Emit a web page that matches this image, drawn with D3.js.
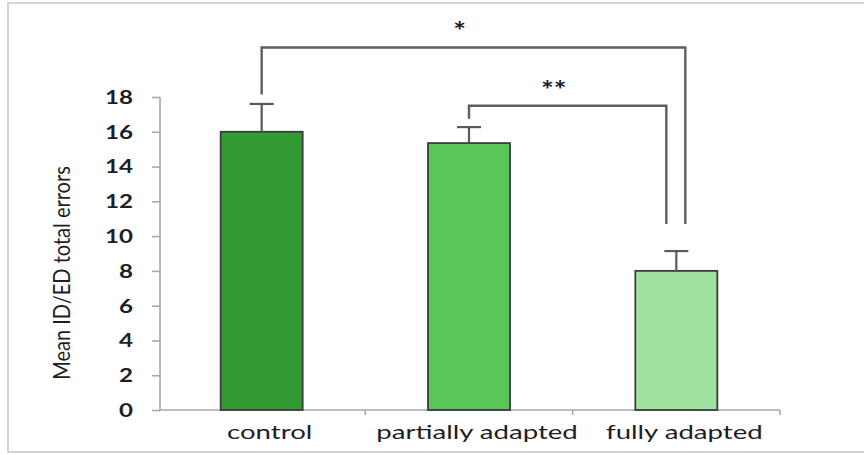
<!DOCTYPE html>
<html>
<head>
<meta charset="utf-8">
<script src="https://cdn.jsdelivr.net/npm/d3@7"></script>
<style>
  html, body { margin: 0; padding: 0; background: #ffffff; }
  svg { display: block; }
  text { font-family: Lato, "Open Sans", sans-serif; fill: #1e1e24; }
</style>
</head>
<body>
<svg id="chart" width="864" height="454"></svg>
<script>
// Groups and their mean ID/ED total errors with error bar size
const categories = ["control", "partially adapted", "fully adapted"];
const means = [16.0, 15.35, 8.0];
const errors = [1.6, 0.92, 1.14];
const barColors = ["#339933", "#58c658", "#a2e2a0"];
const yTicks = [0, 2, 4, 6, 8, 10, 12, 14, 16, 18];
const yTitle = "Mean ID/ED total errors";

// Significance brackets: group pair, label and heights (in data units)
const brackets = [
  { from: "control", to: "fully adapted", label: "*", top: 20.85, fromEnd: 18.15, toEnd: 10.7 },
  { from: "partially adapted", to: "fully adapted", label: "**", top: 17.5, fromEnd: 16.75, toEnd: 10.7 }
];

const svg = d3.select("#chart");

// outer frame
svg.append("rect")
  .attr("x", 8).attr("y", 3).attr("width", 880).attr("height", 449)
  .attr("fill", "none").attr("stroke", "#d4d4d4").attr("stroke-width", 2);

const plot = { left: 160, right: 778, top: 97, bottom: 410 };

const y = d3.scaleLinear().domain([0, 18]).range([plot.bottom, plot.top]);
const slot = d3.scaleBand().domain(categories).range([plot.left - 2, plot.right + 2]).padding(0);
const barW = 82;
const cx = c => slot(c) + slot.bandwidth() / 2;

// y axis
const yAxis = svg.append("g")
  .attr("transform", `translate(${plot.left},0)`)
  .call(d3.axisLeft(y).tickValues(yTicks).tickSize(8).tickFormat(""));
yAxis.select(".domain").attr("stroke", "#a8a8a8").attr("stroke-width", 1.6)
  .attr("d", `M0,${plot.top}V${plot.bottom}`);
yAxis.selectAll(".tick line").attr("stroke", "#a8a8a8").attr("stroke-width", 1.6);

const tickSX = 1.27;
svg.append("g").selectAll("text").data(yTicks).join("text")
  .attr("transform", d => `translate(133,${y(d)}) scale(${tickSX},1)`)
  .attr("text-anchor", "end")
  .attr("dy", "0.36em")
  .style("font-size", "19px")
  .style("font-weight", "bold")
  .text(d => d);

// x axis with tick marks between categories
const xg = svg.append("g");
xg.append("line")
  .attr("x1", plot.left).attr("x2", slot.range()[1])
  .attr("y1", plot.bottom).attr("y2", plot.bottom)
  .attr("stroke", "#a8a8a8").attr("stroke-width", 1.6);
const bounds = categories.map(c => slot(c) + slot.bandwidth());
xg.selectAll("line.tk").data(bounds).join("line")
  .attr("class", "tk")
  .attr("x1", d => d).attr("x2", d => d)
  .attr("y1", plot.bottom).attr("y2", plot.bottom + 5)
  .attr("stroke", "#a8a8a8").attr("stroke-width", 1.6);

const labSX = 1.38;
xg.selectAll("text").data(categories).join("text")
  .attr("transform", c => `translate(${cx(c) + 8},439) scale(${labSX},1)`)
  .attr("text-anchor", "middle")
  .style("font-size", "20px")
  .text(c => c);

// y axis title
svg.append("text")
  .attr("transform", `translate(70,273) scale(1.2,1) rotate(-90)`)
  .attr("text-anchor", "middle")
  .style("font-size", "20px")
  .text(yTitle);

// bars
svg.append("g").selectAll("rect").data(categories).join("rect")
  .attr("x", c => cx(c) - barW / 2)
  .attr("y", (c, i) => y(means[i]))
  .attr("width", barW)
  .attr("height", (c, i) => y(0) - y(means[i]))
  .attr("fill", (c, i) => barColors[i])
  .attr("stroke", "#3c3c3c").attr("stroke-width", 1.8);

// error bars (upper whisker only)
const eb = svg.append("g").attr("stroke", "#5a5a5a").attr("stroke-width", 2.2).attr("fill", "none");
categories.forEach((c, i) => {
  const x0 = cx(c);
  eb.append("line").attr("x1", x0).attr("x2", x0)
    .attr("y1", y(means[i])).attr("y2", y(means[i] + errors[i]));
  eb.append("line").attr("x1", x0 - 12).attr("x2", x0 + 12)
    .attr("y1", y(means[i] + errors[i])).attr("y2", y(means[i] + errors[i]));
});

// significance brackets
const bg = svg.append("g");
const rightShift = { "*": 9, "**": -10 };
brackets.forEach(b => {
  const x1 = cx(b.from);
  const x2 = cx(b.to) + rightShift[b.label];
  const yt = y(b.top);
  bg.append("path")
    .attr("d", `M${x1},${y(b.fromEnd)}V${yt}H${x2}V${y(b.toEnd)}`)
    .attr("fill", "none").attr("stroke", "#5e5e5e").attr("stroke-width", 2.4);
  bg.append("text")
    .attr("transform", `translate(${(x1 + x2) / 2 - 14},${yt - 7}) scale(1.25,1)`)
    .attr("text-anchor", "middle")
    .style("font-size", "24px")
    .style("font-weight", "bold")
    .text(b.label);
});
</script>
</body>
</html>
